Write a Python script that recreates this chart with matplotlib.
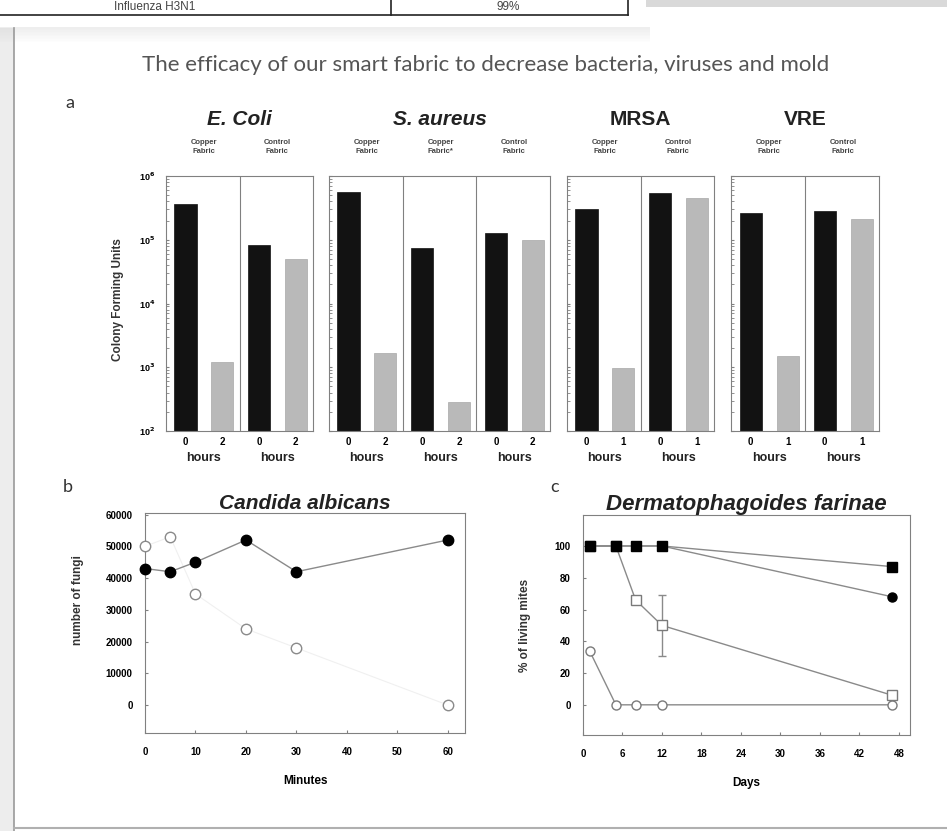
import numpy as np
import matplotlib
matplotlib.use('Agg')
import matplotlib.pyplot as plt
from matplotlib.patches import Rectangle

# Params
W, H = 947, 831
bold_font = 'Liberation Sans'
spine_color = '#808080'
line_gray = '#8a8a8a'

# panel a: colony forming units (log scale)
species = ['E. Coli', 'S. aureus', 'MRSA', 'VRE']
species_italic = [True, True, False, False]
fabrics = [['Copper\nFabric', 'Control\nFabric'],
           ['Copper\nFabric', 'Copper\nFabric*', 'Control\nFabric'],
           ['Copper\nFabric', 'Control\nFabric'],
           ['Copper\nFabric', 'Control\nFabric']]
hours = [['0', '2'], ['0', '2'], ['0', '1'], ['0', '1']]
cfu_start = [[3.6e5, 8.3e4], [5.6e5, 7.5e4, 1.26e5], [3.0e5, 5.4e5], [2.6e5, 2.8e5]]
cfu_end = [[1.2e3, 4.9e4], [1.66e3, 2.85e2, 9.8e4], [9.6e2, 4.5e5], [1.5e3, 2.1e5]]
cfu_ticks = [1e2, 1e3, 1e4, 1e5, 1e6]
cfu_tick_labels = ['10$^{2}$', '10$^{3}$', '10$^{4}$', '10$^{5}$', '10$^{6}$']

# panel b: Candida albicans
minutes = [0, 5, 10, 20, 30, 60]
fungi_control = [43000, 42000, 45000, 52000, 42000, 52000]
fungi_copper = [50000, 53000, 35000, 24000, 18000, 0]

# panel c: Dermatophagoides farinae
days = [1, 5, 8, 12, 47]
mites_ctrl_sq = [100, 100, 100, 100, 87]
mites_ctrl_ci = [100, 100, 100, 100, 68]
mites_cu_sq = [100, 100, 66, 50, 6]
mites_cu_sq_err = [0, 0, 0, 19, 0]
mites_cu_ci = [34, 0, 0, 0, 0]


def px_rect(left, top, right, bottom):
    return [left / W, 1 - bottom / H, (right - left) / W, (bottom - top) / H]


def style_spines(ax):
    for s in ax.spines.values():
        s.set_color(spine_color)
        s.set_linewidth(0.8)


def draw_page(fig):
    bg = fig.add_axes([0, 0, 1, 1], zorder=-5)
    bg.set_xlim(0, W)
    bg.set_ylim(H, 0)
    bg.axis('off')
    # left margin of the page viewer
    bg.add_patch(Rectangle((0, 28), 14, H, color='#ededed', lw=0))
    bg.plot([14, 14], [28, H], color='#9a9a9a', lw=1.2)
    # top right grey band
    bg.add_patch(Rectangle((640, 0), W - 640, 7, color='#d9d9d9', lw=0))
    for k in range(10):
        bg.add_patch(Rectangle((0, 27 + k * 1.5), 650, 1.5, color='#cfcfcf',
                               alpha=0.35 * (1 - k / 10), lw=0))
    # floating table snippet
    bg.add_patch(Rectangle((0, 0), 646, 27, color='white', lw=0))
    bg.plot([0, 628], [15, 15], color='#222222', lw=1.2)
    bg.plot([391, 391], [0, 15], color='#222222', lw=1.2)
    bg.plot([628, 628], [0, 15], color='#222222', lw=1.2)
    bg.text(155, 7, 'Influenza H3N1', ha='center', va='center', fontsize=8.5,
            color='#444444', family='Liberation Sans')
    bg.text(508, 7, '99%', ha='center', va='center', fontsize=8.5,
            color='#444444', family='Liberation Sans')
    # bottom page edge
    bg.plot([14, W], [828, 828], color='#b0b0b0', lw=1.5)
    # title and panel letters
    bg.text(486, 65, 'The efficacy of our smart fabric to decrease bacteria, viruses and mold',
            ha='center', va='center', fontsize=16, color='#555555', family='Lato')
    bg.text(70, 103, 'a', ha='center', va='center', fontsize=13, color='#333333', family='Lato')
    bg.text(68, 487, 'b', ha='center', va='center', fontsize=13, color='#333333', family='Lato')
    bg.text(555, 487, 'c', ha='center', va='center', fontsize=13, color='#333333', family='Lato')
    # axis labels that span panels
    bg.text(118, 300, 'Colony Forming Units', rotation=90, ha='center', va='center',
            fontsize=8.5, fontweight='bold', family=bold_font, color='#333333')
    bg.text(78, 600, 'number of fungi', rotation=90, ha='center', va='center',
            fontsize=8.5, fontweight='bold', family=bold_font, color='#333333')
    bg.text(525, 625, '% of living mites', rotation=90, ha='center', va='center',
            fontsize=8.5, fontweight='bold', family=bold_font, color='#333333')


def plot_cfu(fig):
    boxes = [(166, 313), (329, 550), (567, 714), (731, 879)]
    for i, (left, right) in enumerate(boxes):
        ax = fig.add_axes(px_rect(left, 176, right, 431))
        n = len(fabrics[i])
        x0 = np.arange(n) * 2
        x1 = x0 + 1
        ax.set_yscale('log')
        ax.bar(x0, cfu_start[i], width=0.6, color='#121212', edgecolor='#121212', lw=0.5)
        ax.bar(x1, cfu_end[i], width=0.6, color='#b9b9b9', edgecolor='#a8a8a8', lw=0.5)
        ax.set_ylim(1e2, 1e6)
        ax.set_xlim(-0.53, 2 * n - 0.53)
        for k in range(n - 1):
            ax.axvline(2 * k + 1.47, color=spine_color, lw=0.8)
        ax.set_xticks(np.sort(np.concatenate([x0, x1])))
        ax.set_xticklabels(hours[i] * n, fontsize=7, fontweight='bold', family=bold_font)
        ax.tick_params(axis='x', length=0, pad=4)
        trans = ax.get_xaxis_transform()
        for k in range(n):
            ax.text(2 * k + 0.5, -0.105, 'hours', transform=trans, ha='center', va='center',
                    fontsize=9, fontweight='bold', family=bold_font, color='#222222')
            ax.text(2 * k + 0.5, 1.115, fabrics[i][k], transform=trans, ha='center', va='center',
                    fontsize=5.5, fontweight='bold', family=bold_font, color='#444444',
                    linespacing=1.4)
        ax.text(0.5, 1.22, species[i], transform=ax.transAxes, ha='center', va='center',
                fontsize=15, fontweight='bold', family=bold_font,
                style='italic' if species_italic[i] else 'normal', color='#222222')
        ax.tick_params(axis='y', which='both', direction='in', length=2, color=spine_color)
        if i == 0:
            ax.set_yticks(cfu_ticks)
            ax.set_yticklabels(cfu_tick_labels, fontsize=6.5, fontweight='bold', family=bold_font)
            ax.tick_params(axis='y', which='major', pad=8)
        else:
            ax.tick_params(axis='y', which='both', labelleft=False)
        style_spines(ax)


def plot_candida(fig):
    ax = fig.add_axes(px_rect(145, 513, 465, 733))
    ax.plot(minutes, fungi_copper, color='#f0f0f0', lw=0.8, marker='o', mfc='white',
            mec='#8a8a8a', ms=7.5, clip_on=False, zorder=3)
    ax.plot(minutes, fungi_control, color=line_gray, lw=1, marker='o', mfc='black',
            mec='black', ms=7.5, clip_on=False, zorder=4)
    ax.set_xlim(0, 63.4)
    ax.set_ylim(-8800, 60500)
    ax.set_xticks(range(0, 61, 10))
    ax.set_yticks(range(0, 60001, 10000))
    ax.tick_params(direction='in', length=2.5, color=spine_color, labelsize=7)
    ax.tick_params(axis='x', pad=10)
    ax.tick_params(axis='y', pad=9)
    for lab in ax.get_xticklabels() + ax.get_yticklabels():
        lab.set_fontweight('bold')
        lab.set_family(bold_font)
    ax.set_xlabel('Minutes', fontsize=8.5, fontweight='bold', family=bold_font, labelpad=13)
    ax.set_title('Candida albicans', fontsize=15, fontweight='bold', style='italic',
                 family=bold_font, pad=2, color='#222222')
    style_spines(ax)


def plot_mites(fig):
    ax = fig.add_axes(px_rect(583, 515, 910, 735))
    ax.plot(days, mites_cu_ci, color=line_gray, lw=1, marker='o', mfc='white',
            mec='#7a7a7a', ms=6.5, clip_on=False, zorder=3)
    ax.errorbar(days, mites_cu_sq, yerr=mites_cu_sq_err, color=line_gray, lw=1,
                marker='s', mfc='white', mec='#7a7a7a', ms=6.5, capsize=3, ecolor=line_gray,
                elinewidth=1, clip_on=False, zorder=3)
    ax.plot(days, mites_ctrl_ci, color=line_gray, lw=1, marker='o', mfc='black',
            mec='black', ms=6.5, clip_on=False, zorder=4)
    ax.plot(days, mites_ctrl_sq, color=line_gray, lw=1, marker='s', mfc='black',
            mec='black', ms=7, clip_on=False, zorder=5)
    ax.set_xlim(0, 49.7)
    ax.set_ylim(-19, 119.5)
    ax.set_xticks(range(0, 49, 6))
    ax.set_yticks(range(0, 101, 20))
    ax.tick_params(direction='in', length=2.5, color=spine_color, labelsize=7)
    ax.tick_params(axis='x', pad=10)
    ax.tick_params(axis='y', pad=9)
    for lab in ax.get_xticklabels() + ax.get_yticklabels():
        lab.set_fontweight('bold')
        lab.set_family(bold_font)
    ax.set_xlabel('Days', fontsize=8.5, fontweight='bold', family=bold_font, labelpad=13)
    ax.set_title('Dermatophagoides farinae', fontsize=16, fontweight='bold', style='italic',
                 family=bold_font, pad=2, color='#222222')
    style_spines(ax)


def main():
    plt.rcParams['mathtext.default'] = 'bf'
    fig = plt.figure(figsize=(W / 100, H / 100), dpi=100)
    fig.patch.set_facecolor('white')
    draw_page(fig)
    plot_cfu(fig)
    plot_candida(fig)
    plot_mites(fig)
    fig.savefig('out.png', dpi=100)


if __name__ == '__main__':
    main()
